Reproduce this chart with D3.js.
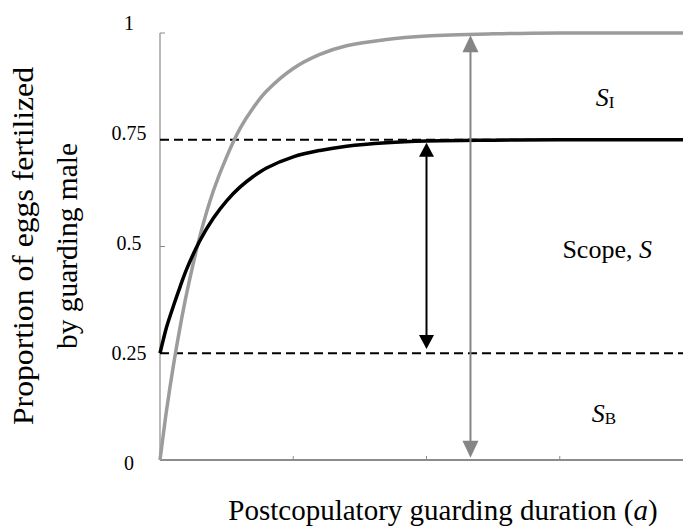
<!DOCTYPE html>
<html>
<head>
<meta charset="utf-8">
<script src="https://cdn.jsdelivr.net/npm/d3@7"></script>
<style>
  html, body { margin: 0; padding: 0; background: #fff; }
  svg { display: block; font-family: "Liberation Serif", "Times New Roman", serif; }
</style>
</head>
<body>
<svg id="chart" width="683" height="532"></svg>
<script>
// ---- data ----
const xTicks = [1, 2, 3];
const yTicks = [0, 0.25, 0.5, 0.75, 1];
const yTickLabels = ["0", "0.25", "0.5", "0.75", "1"];
const dashedLevels = [0.25, 0.75];

// Grey curve: rises from 0 towards 1
const greyX = [0, 0.025, 0.05, 0.1, 0.15, 0.2, 0.3, 0.4, 0.5, 0.6, 0.7, 0.8, 1.0, 1.2, 1.4, 1.7, 2.0, 2.5, 3.0, 3.925];
const greyY = [0, 0.06, 0.118, 0.22, 0.31, 0.39, 0.525, 0.63, 0.71, 0.776, 0.825, 0.864, 0.917, 0.95, 0.97, 0.985, 0.993, 0.998, 1.0, 1.0];
// Black curve: rises from 0.25 towards 0.75
const blackX = [0, 0.025, 0.05, 0.1, 0.15, 0.2, 0.3, 0.4, 0.5, 0.6, 0.7, 0.8, 1.0, 1.2, 1.4, 1.7, 2.0, 2.5, 3.0, 3.925];
const blackY = [0.25, 0.282, 0.312, 0.36, 0.405, 0.447, 0.514, 0.566, 0.607, 0.639, 0.664, 0.684, 0.71, 0.725, 0.735, 0.743, 0.747, 0.749, 0.75, 0.75];

// Double-headed arrows: [x, lower value, upper value]
const blackArrow = [2.0, 0.26, 0.743];
const greyArrow = [2.33, 0.005, 0.995];

const xLabel = "Postcopulatory guarding duration (";
const xLabelItalic = "a";
const yLabelLines = ["Proportion of eggs fertilized", "by guarding male"];

// ---- scales ----
const svg = d3.select("#chart");
const x = d3.scaleLinear().domain([0, 4]).range([160, 693]);
const y = d3.scaleLinear().domain([0, 1]).range([460, 33]);
const yLab = d3.scaleLinear().domain([0, 1]).range([463, 23]);
const xMax = x.invert(683);

const GREY_AXIS = "#8c8c8c";
const GREY_CURVE = "#9c9c9c";
const GREY_ARROW = "#858585";

// ---- axes ----
svg.append("line").attr("x1", x(0)).attr("x2", x(0)).attr("y1", y(1)).attr("y2", y(0))
  .attr("stroke", GREY_AXIS).attr("stroke-width", 1.2);
svg.selectAll(".ytick").data(yTicks.filter(d => d > 0)).enter().append("line")
  .attr("x1", x(0)).attr("x2", x(0) + 5).attr("y1", d => y(d)).attr("y2", d => y(d))
  .attr("stroke", GREY_AXIS).attr("stroke-width", 1);
svg.append("line").attr("x1", x(0)).attr("x2", x(xMax)).attr("y1", y(0)).attr("y2", y(0))
  .attr("stroke", GREY_AXIS).attr("stroke-width", 2);
svg.selectAll(".xtick").data(xTicks).enter().append("line")
  .attr("x1", d => x(d)).attr("x2", d => x(d)).attr("y1", y(0)).attr("y2", y(0) - 4)
  .attr("stroke", GREY_AXIS).attr("stroke-width", 1);

// y tick labels
svg.selectAll(".ylab").data(yTicks).enter().append("text")
  .attr("x", 129).attr("y", d => yLab(d))
  .attr("dy", "0.35em").attr("text-anchor", "middle")
  .attr("font-size", 20).attr("fill", "#000")
  .text((d, i) => yTickLabels[i]);

// dashed reference lines
svg.selectAll(".dash").data(dashedLevels).enter().append("line")
  .attr("x1", x(0)).attr("x2", x(xMax)).attr("y1", d => y(d)).attr("y2", d => y(d))
  .attr("stroke", "#000").attr("stroke-width", 1.8).attr("stroke-dasharray", "9,5");

// ---- curves ----
const line = d3.line().x(d => x(d[0])).y(d => y(d[1])).curve(d3.curveCatmullRom.alpha(0.5));
svg.append("path").datum(greyX.map((v, i) => [v, greyY[i]]))
  .attr("d", line).attr("fill", "none").attr("stroke", GREY_CURVE).attr("stroke-width", 3.5);
svg.append("path").datum(blackX.map((v, i) => [v, blackY[i]]))
  .attr("d", line).attr("fill", "none").attr("stroke", "#000").attr("stroke-width", 3.5);

// ---- arrows ----
function drawArrow(a, color, hw, hh, sw) {
  const cx = x(a[0]), yTop = y(a[2]), yBot = y(a[1]);
  const g = svg.append("g");
  g.append("line").attr("x1", cx).attr("x2", cx).attr("y1", yTop + hh - 1).attr("y2", yBot - hh + 1)
    .attr("stroke", color).attr("stroke-width", sw);
  g.append("path").attr("d", `M${cx},${yTop} L${cx - hw / 2},${yTop + hh} L${cx + hw / 2},${yTop + hh} Z`).attr("fill", color);
  g.append("path").attr("d", `M${cx},${yBot} L${cx - hw / 2},${yBot - hh} L${cx + hw / 2},${yBot - hh} Z`).attr("fill", color);
}
drawArrow(greyArrow, GREY_ARROW, 16, 17, 2);
drawArrow(blackArrow, "#000", 15, 14, 2);

// ---- region labels ----
function subLabel(px, py, main, sub) {
  const t = svg.append("text").attr("x", px).attr("y", py).attr("font-size", 26).attr("fill", "#000");
  t.append("tspan").attr("font-style", "italic").text(main);
  t.append("tspan").attr("font-size", 17).attr("dy", 2).text(sub);
}
subLabel(x(3.27), y(0.83), "S", "I");
subLabel(x(3.24), y(0.088), "S", "B");
const sc = svg.append("text").attr("x", x(3.02)).attr("y", y(0.473)).attr("font-size", 26).attr("fill", "#000");
sc.append("tspan").text("Scope, ");
sc.append("tspan").attr("font-style", "italic").text("S");

// ---- axis titles ----
const xt = svg.append("text").attr("x", 443).attr("y", 520).attr("text-anchor", "middle")
  .attr("font-size", 29).attr("fill", "#000");
xt.append("tspan").text(xLabel);
xt.append("tspan").attr("font-style", "italic").text(xLabelItalic);
xt.append("tspan").text(")");

const yLengths = [358, 206];
const yBase = [33, 77];
yLabelLines.forEach((s, i) => {
  svg.append("text")
    .attr("transform", `translate(${yBase[i]},246) rotate(-90)`)
    .attr("text-anchor", "middle").attr("font-size", 30).attr("fill", "#000")
    .attr("textLength", yLengths[i]).attr("lengthAdjust", "spacingAndGlyphs")
    .text(s);
});
</script>
</body>
</html>
